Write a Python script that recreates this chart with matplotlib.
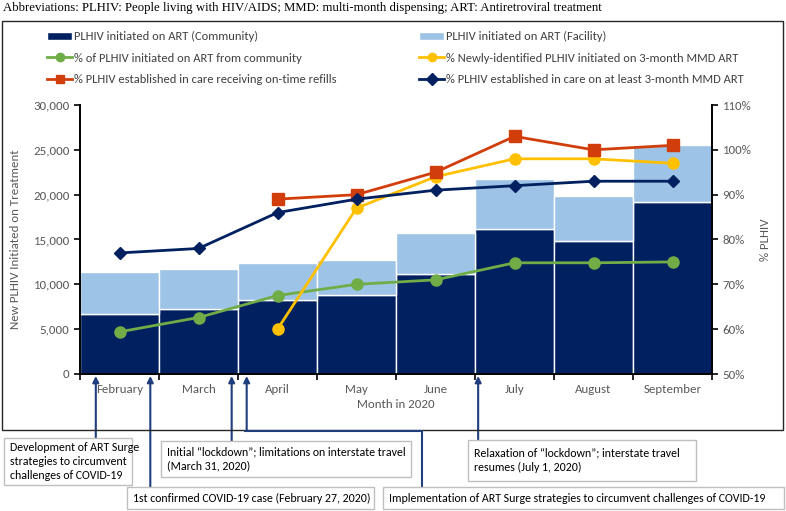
import matplotlib
matplotlib.use('Agg')
import matplotlib.pyplot as plt
from matplotlib.lines import Line2D
from matplotlib.patches import Rectangle
import numpy as np

plt.rcParams['font.family'] = ['Carlito', 'Lato', 'DejaVu Sans']

# data
months = ['February', 'March', 'April', 'May', 'June', 'July', 'August', 'September']
community = [6700, 7300, 8300, 8850, 11150, 16200, 14800, 19200]
total = [11400, 11700, 12400, 12700, 15700, 21700, 19850, 25500]
facility = [t - c for t, c in zip(total, community)]

pct_community = [59.4, 62.6, 67.5, 70.0, 71.0, 74.8, 74.8, 75.0]
pct_newly_mmd = [None, None, 60.0, 87.0, 94.0, 98.0, 98.0, 97.0]
pct_ontime = [None, None, 89.0, 90.0, 95.0, 103.0, 100.0, 101.0]
pct_mmd3 = [77.0, 78.0, 86.0, 89.0, 91.0, 92.0, 93.0, 93.0]

# timeline events (x in month units, 0 = February centre)
events_x = [-0.3, 0.39, 1.42, 1.61, 4.54]

W, H = 786, 511
fig = plt.figure(figsize=(W / 100, H / 100), dpi=100)

def fx(px):
    return px / W

def fy(py):
    return 1 - py / H

gray = '#595959'
navy = '#002060'
light = '#9DC3E6'
green = '#70AD47'
yellow = '#FFC000'
red = '#D23E0B'
arrow_c = '#203D7E'
fs = 9.3

fig.text(0.004, fy(8), 'Abbreviations: PLHIV: People living with HIV/AIDS; MMD: multi-month dispensing; '
         'ART: Antiretroviral treatment', family='Liberation Serif', fontsize=9.2, va='center')

# outer frame
fig.patches.append(Rectangle((fx(1.5), fy(430)), fx(783) - fx(1.5), fy(21) - fy(430),
                             transform=fig.transFigure, fill=False, ec='#262626', lw=1.0))

ax = fig.add_axes([fx(80), fy(374), fx(712) - fx(80), fy(105) - fy(374)])
x = np.arange(len(months))
b1 = ax.bar(x, community, width=1.0, color=navy, edgecolor='white', linewidth=1.0,
            label='PLHIV initiated on ART (Community)', zorder=1)
b2 = ax.bar(x, facility, width=1.0, bottom=community, color=light, edgecolor='white', linewidth=1.0,
            label='PLHIV initiated on ART (Facility)', zorder=1)
ax.set_xlim(-0.5, len(months) - 0.5)
ax.set_ylim(0, 30000)
ax.set_yticks(np.arange(0, 30001, 5000))
ax.set_yticklabels([f'{v:,}' for v in range(0, 30001, 5000)])
ax.set_xticks(x)
ax.set_xticklabels(months)
ax.set_xticks(np.arange(-0.5, len(months)), minor=True)
ax.tick_params(axis='x', which='major', length=0, pad=7, labelsize=fs, labelcolor=gray)
ax.tick_params(axis='x', which='minor', length=4, width=1.2, direction='out', color='black')
ax.tick_params(axis='y', length=4, width=1.2, labelsize=fs, labelcolor=gray)
ax.set_xlabel('Month in 2020', fontsize=fs, color=gray, labelpad=3)
ax.set_ylabel('New PLHIV Initiated on Treatment', fontsize=fs, color=gray, labelpad=9)
for s in ['top', 'right']:
    ax.spines[s].set_visible(False)
for s in ['left', 'bottom']:
    ax.spines[s].set_linewidth(1.4)

ax2 = ax.twinx()
ax2.set_ylim(50, 110)
ax2.set_yticks(np.arange(50, 111, 10))
ax2.set_yticklabels([f'{v}%' for v in range(50, 111, 10)])
ax2.tick_params(axis='y', length=4, width=1.2, labelsize=fs, labelcolor=gray)
ax2.set_ylabel('% PLHIV', fontsize=fs, color=gray, labelpad=6)
for s in ['top', 'left', 'bottom']:
    ax2.spines[s].set_visible(False)
ax2.spines['right'].set_linewidth(1.4)

def series(vals):
    xs = [i for i, v in enumerate(vals) if v is not None]
    return xs, [vals[i] for i in xs]

l1, = ax2.plot(*series(pct_community), color=green, lw=2, marker='o', ms=8,
               label='% of PLHIV initiated on ART from community')
l2, = ax2.plot(*series(pct_newly_mmd), color=yellow, lw=2, marker='o', ms=8,
               label='% Newly-identified PLHIV initiated on 3-month MMD ART')
l3, = ax2.plot(*series(pct_ontime), color=red, lw=2, marker='s', ms=8,
               label='% PLHIV established in care receiving on-time refills')
l4, = ax2.plot(*series(pct_mmd3), color=navy, lw=2, marker='D', ms=6,
               label='% PLHIV established in care on at least 3-month MMD ART')

handles = [b1, l1, l3, b2, l2, l4]
leg = fig.legend(handles=handles, labels=[h.get_label() for h in handles], ncol=2,
                 loc='upper left', bbox_to_anchor=(fx(36), fy(20)), frameon=False,
                 fontsize=9.0, labelcolor='#404040', handlelength=2.0, handleheight=0.6,
                 handletextpad=0.15, columnspacing=6.6, labelspacing=0.82)
for h in leg.legend_handles:
    if isinstance(h, Line2D):
        h.set_markersize(6)

# annotation boxes
boxes = [
    (4, 438, 128, 47, 'Development of ART Surge\nstrategies to circumvent\nchallenges of COVID-19'),
    (127, 487, 247, 22, '1st confirmed COVID-19 case (February 27, 2020)'),
    (161, 441, 250, 36, 'Initial \u201clockdown\u201d; limitations on interstate travel\n(March 31, 2020)'),
    (468, 440, 228, 41, 'Relaxation of \u201clockdown\u201d; interstate travel\nresumes (July 1, 2020)'),
    (383, 487, 401, 22, 'Implementation of ART Surge strategies to circumvent challenges of COVID-19'),
]
for bx, by, bw, bh, txt in boxes:
    fig.patches.append(Rectangle((fx(bx), fy(by + bh)), fx(bw), bh / H,
                                 transform=fig.transFigure, fc='white', ec='#BFBFBF', lw=1.0, zorder=3))
    fig.text(fx(bx + 6), fy(by + bh / 2), txt, fontsize=8.6, va='center', ha='left',
             linespacing=1.35, zorder=4)

# arrows from the timeline down to the boxes
arrow_ends = [438, 487, 441, 431, 440]
for ex, end in zip(events_x, arrow_ends):
    ax.annotate('', xy=(ex, H - 376), xycoords=('data', 'figure pixels'),
                xytext=(ex, H - end), textcoords=('data', 'figure pixels'),
                arrowprops=dict(arrowstyle='-|>', color=arrow_c, lw=1.5, mutation_scale=9,
                                shrinkA=0, shrinkB=0),
                annotation_clip=False)
# elbow of the fourth arrow down to its box
fig.lines.append(Line2D([fx(245.5), fx(422), fx(422)], [fy(431), fy(431), fy(487)],
                        transform=fig.transFigure, color=arrow_c, lw=1.5))

fig.savefig('out.png', dpi=100)
